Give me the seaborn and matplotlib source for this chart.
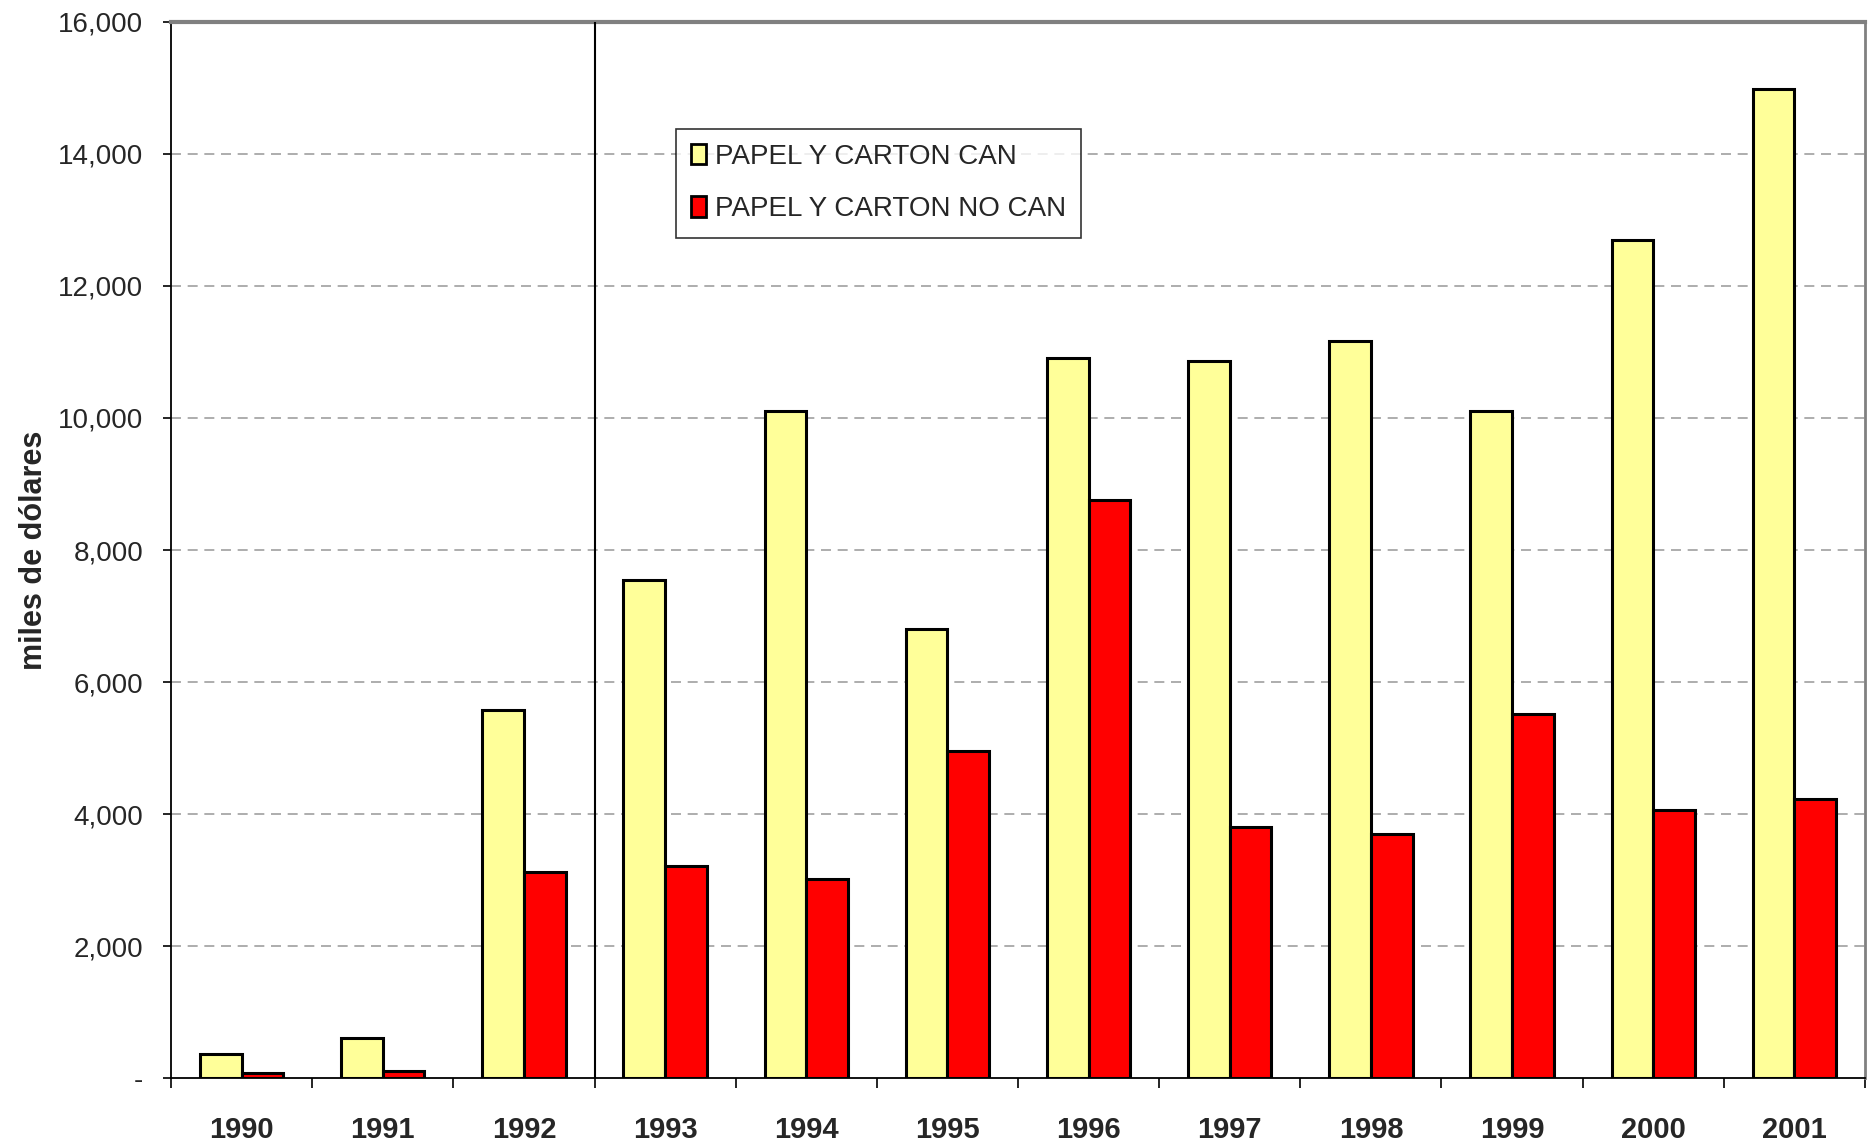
import matplotlib
matplotlib.use("Agg")
import matplotlib.pyplot as plt
import matplotlib.ticker as mticker
from matplotlib.patches import Patch
import seaborn as sns
import pandas as pd
import numpy as np

years = ["1990", "1991", "1992", "1993", "1994", "1995", "1996", "1997", "1998", "1999", "2000", "2001"]
can = [360, 600, 5580, 7540, 10110, 6800, 10910, 10870, 11160, 10110, 12700, 14985]
no_can = [72, 110, 3120, 3210, 3010, 4950, 8750, 3810, 3700, 5510, 4060, 4220]
series = ["PAPEL Y CARTON CAN", "PAPEL Y CARTON NO CAN"]
colors = ["#FFFF99", "#FF0000"]
yticks = [0, 2000, 4000, 6000, 8000, 10000, 12000, 14000, 16000]

df = pd.DataFrame({
    "year": years * 2,
    "value": can + no_can,
    "serie": [series[0]] * len(years) + [series[1]] * len(years),
})

sns.set_theme(style="white")
plt.rcParams["font.family"] = ["Liberation Sans Narrow", "Liberation Sans", "DejaVu Sans"]

fig = plt.figure(figsize=(18.76, 11.45), dpi=100)
ax = fig.add_axes([0.0912, 0.0585, 0.9029, 0.9223])

sns.barplot(data=df, x="year", y="value", hue="serie", palette=colors,
            width=0.59, edgecolor="black", linewidth=2.2, saturation=1,
            ax=ax, legend=False, errorbar=None)

ax.set_xlim(-0.5, len(years) - 0.5)
ax.set_ylim(0, 16000)
ax.set_yticks(yticks)
ax.yaxis.set_major_formatter(mticker.FuncFormatter(lambda v, p: "-" if v == 0 else f"{int(v):,}"))
for y in yticks[1:-1]:
    ax.axhline(y, color="#A0A0A0", lw=1.2, ls=(0, (6, 4)), zorder=0)

ax.axvline(2.5, color="black", lw=1.5, zorder=3)

ax.set_xticks(range(len(years)))
ax.set_xticklabels(years, fontsize=21, fontweight="bold")
ax.set_xticks(np.arange(-0.5, len(years), 1.0), minor=True)
ax.tick_params(axis="x", which="major", length=0, pad=27)
ax.tick_params(axis="x", which="minor", length=7, width=1.2, color="black", direction="out", bottom=True)
ax.tick_params(axis="y", which="major", length=6, width=1.2, color="black", direction="out", left=True,
               labelsize=20, pad=14)

ax.set_xlabel("")
ax.set_ylabel("miles de dólares", fontsize=22, fontweight="bold")
ax.yaxis.set_label_coords(-0.072, 0.5)

for s in ["left", "bottom"]:
    ax.spines[s].set_color("black")
    ax.spines[s].set_linewidth(1.3)
ax.spines["top"].set_color("#808080")
ax.spines["top"].set_linewidth(3)
ax.spines["right"].set_color("#808080")
ax.spines["right"].set_linewidth(2)

handles = [Patch(facecolor=c, edgecolor="black", linewidth=2) for c in colors]
leg = ax.legend(handles, series, loc="upper left", bbox_to_anchor=(0.298, 0.899),
                fontsize=20, frameon=True, fancybox=False, handlelength=0.55,
                handleheight=0.75, handletextpad=0.3, borderpad=0.55, labelspacing=0.95,
                borderaxespad=0)
leg.get_frame().set_edgecolor("black")
leg.get_frame().set_linewidth(1.2)

fig.savefig("out.png", dpi=100)
